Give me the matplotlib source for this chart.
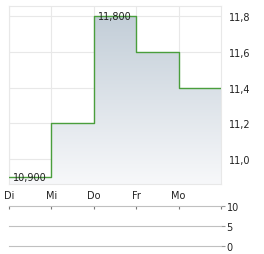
import numpy as np
import matplotlib.pyplot as plt
from matplotlib.patches import Polygon

days = ["Di", "Mi", "Do", "Fr", "Mo"]
prices = [10.9, 11.2, 11.8, 11.6, 11.4]
price_ticks = [11.0, 11.2, 11.4, 11.6, 11.8]
price_labels = ["11,0", "11,2", "11,4", "11,6", "11,8"]
volume_ticks = [0, 5, 10]
max_label = "11,800"
min_label = "10,900"

W, H = 264, 255
fig = plt.figure(figsize=(W / 100, H / 100), dpi=100)
text_color = "#222222"
grid_color = "#e8e8e8"

# price panel
ax = fig.add_axes([9 / W, 1 - 185 / H, 212 / W, 178 / H])
x = np.arange(len(days))
xs = np.append(x, len(days))
ys = np.append(prices, prices[-1])

ymin, ymax = 10.861, 11.856
ax.set_xlim(0, len(days))
ax.set_ylim(ymin, ymax)

# step polygon with gradient fill
px, py = [], []
for i in range(len(prices)):
    px += [xs[i], xs[i + 1]]
    py += [prices[i], prices[i]]
verts = [(px[0], ymin)] + list(zip(px, py)) + [(px[-1], ymin)]
poly = Polygon(verts, closed=True, facecolor="none", edgecolor="none")
ax.add_patch(poly)
grad = np.linspace(0, 1, 256).reshape(-1, 1)
top = np.array([0xc3, 0xce, 0xd8]) / 255
bot = np.array([0xf7, 0xf8, 0xfa]) / 255
img = top + (bot - top) * grad[:, :, None] * np.ones((1, 1, 3))
im = ax.imshow(img, extent=[0, len(days), ymin, max(prices)], origin="upper",
               aspect="auto", zorder=1)
im.set_clip_path(poly)
ax.step(xs, ys, where="post", color="#4a9e3c", lw=1.0, zorder=3)

ax.set_xticks(x)
ax.set_xticklabels(days)
ax.set_yticks(price_ticks)
ax.set_yticklabels(price_labels)
ax.yaxis.tick_right()
ax.tick_params(axis="both", length=0, labelsize=7, colors=text_color)
ax.tick_params(axis="x", pad=4)
ax.tick_params(axis="y", pad=6)
for lbl in ax.get_yticklabels():
    lbl.set_horizontalalignment("left")
ax.grid(True, color=grid_color, lw=0.8, zorder=0)
ax.set_axisbelow(True)
for s in ax.spines.values():
    s.set_color(grid_color)
    s.set_linewidth(0.8)

imax = int(np.argmax(prices))
imin = int(np.argmin(prices))
ax.text(imax + 0.5, prices[imax], max_label, ha="center", va="center",
        fontsize=7, color=text_color, zorder=4)
ax.text(imin + 0.5, prices[imin], min_label, ha="center", va="center",
        fontsize=7, color=text_color, zorder=4)

# volume panel
vx = fig.add_axes([9 / W, 1 - 247 / H, 212 / W, 40 / H])
vx.set_xlim(0, len(days))
vx.set_ylim(0, 10)
for v in volume_ticks:
    vx.axhline(v, color="#c0c0c0", lw=0.8, clip_on=False)
for s in vx.spines.values():
    s.set_visible(False)
vx.set_yticks(volume_ticks)
vx.yaxis.tick_right()
vx.tick_params(axis="y", length=3, width=0.8, color="#999999", labelsize=7,
               pad=1)
for lbl in vx.get_yticklabels():
    lbl.set_color(text_color)
vx.set_xticks(list(x) + [len(days)])
vx.xaxis.tick_top()
vx.tick_params(axis="x", direction="in", length=2, width=0.8, color="#777777",
               labeltop=False)

fig.savefig("out.png", dpi=100)
